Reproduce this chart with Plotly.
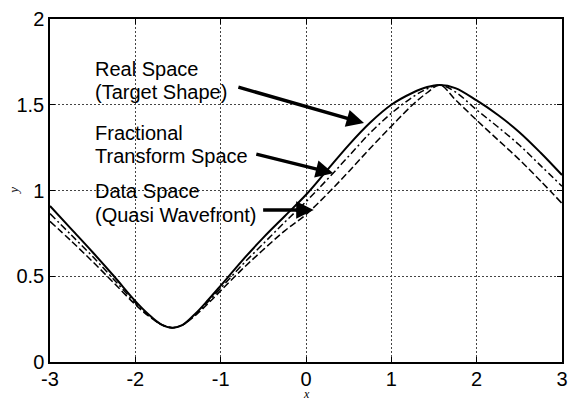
import plotly.graph_objects as go

# Sample positions along x shared by the three profiles
x_vals = [-3.0, -2.75, -2.5, -2.25, -2.0, -1.85, -1.7, -1.57, -1.45, -1.3, -1.15,
          -1.0, -0.75, -0.5, -0.25, 0.0, 0.25, 0.5, 0.75, 1.0, 1.25, 1.42, 1.57,
          1.75, 2.0, 2.25, 2.5, 2.75, 3.0]

# Real space (target shape)
real_space = [0.91, 0.775, 0.64, 0.5, 0.355, 0.28, 0.22, 0.2, 0.215, 0.28, 0.36,
              0.445, 0.59, 0.725, 0.85, 0.975, 1.12, 1.265, 1.395, 1.5, 1.57, 1.603, 1.615,
              1.597, 1.525, 1.44, 1.34, 1.22, 1.09]

# Fractional transform space
fractional = [0.865, 0.74, 0.615, 0.48, 0.345, 0.275, 0.22, 0.2, 0.215, 0.275, 0.35,
              0.43, 0.565, 0.69, 0.815, 0.935, 1.065, 1.2, 1.335, 1.45, 1.545, 1.593, 1.615,
              1.575, 1.47, 1.37, 1.265, 1.145, 1.025]

# Data space (quasi wavefront)
data_space = [0.82, 0.705, 0.585, 0.46, 0.335, 0.27, 0.22, 0.2, 0.215, 0.27, 0.34,
              0.415, 0.54, 0.655, 0.765, 0.86, 0.98, 1.11, 1.245, 1.375, 1.5, 1.57, 1.615,
              1.53, 1.41, 1.295, 1.18, 1.055, 0.925]

x_ticks = [-3, -2, -1, 0, 1, 2, 3]
y_ticks = [0, 0.5, 1, 1.5, 2]
y_tick_text = ["0", "0.5", "1", "1.5", "2"]

fig = go.Figure()
fig.add_trace(go.Scatter(x=x_vals, y=real_space, mode="lines",
                         line=dict(color="black", width=2, shape="spline", smoothing=1.0)))
fig.add_trace(go.Scatter(x=x_vals, y=fractional, mode="lines",
                         line=dict(color="black", width=1.5, dash="7px,3px,2px,3px",
                                   shape="spline", smoothing=1.0)))
fig.add_trace(go.Scatter(x=x_vals, y=data_space, mode="lines",
                         line=dict(color="black", width=1.5, dash="7px,3px",
                                   shape="spline", smoothing=1.0)))

label_font = dict(family="Liberation Sans, Arial, sans-serif", size=20, color="black")

# Curve labels (one annotation per text line)
labels = [
    ("Real Space", 1.709),
    ("(Target Shape)", 1.575),
    ("Fractional", 1.338),
    ("Transform Space", 1.204),
    ("Data Space", 1.0),
    ("(Quasi Wavefront)", 0.860),
]
for txt, yy in labels:
    fig.add_annotation(x=-2.5, y=yy, text=txt, showarrow=False, xanchor="left",
                       yanchor="middle", font=label_font)

# Arrows from the labels to their curves: (tail x, tail y, head x, head y)
arrows = [
    (-0.81, 1.605, 0.68, 1.393),
    (-0.60, 1.214, 0.32, 1.101),
    (-0.52, 0.887, 0.09, 0.887),
]
for ax0, ay0, hx, hy in arrows:
    fig.add_annotation(x=hx, y=hy, ax=ax0, ay=ay0, xref="x", yref="y",
                       axref="x", ayref="y", text="", showarrow=True,
                       arrowhead=2, arrowsize=1.0, arrowwidth=3.5, arrowcolor="black")

# Axis names, small italic serif
title_font = dict(family="Liberation Serif, Times New Roman, serif", size=12, color="black")
fig.add_annotation(xref="paper", yref="paper", x=0.5, y=-0.092, text="<i>x</i>",
                   showarrow=False, xanchor="center", yanchor="middle", borderpad=0,
                   font=title_font)
fig.add_annotation(xref="paper", yref="paper", x=-0.072, y=0.5, text="<i>y</i>",
                   showarrow=False, xanchor="center", yanchor="middle", textangle=-90,
                   borderpad=0, font=dict(family="Liberation Serif, Times New Roman, serif",
                                          size=13, color="black"))

axis_common = dict(
    showline=True, linecolor="black", linewidth=1.5, mirror="allticks",
    ticks="inside", ticklen=5, tickcolor="black", tickwidth=1,
    showgrid=True, gridcolor="#444444", gridwidth=1, griddash="2px,2px",
    zeroline=False, automargin=False,
    tickfont=dict(family="Liberation Sans, Arial, sans-serif", size=20, color="black"),
)

fig.update_xaxes(range=[-3, 3], tickvals=x_ticks, ticktext=[str(v) for v in x_ticks],
                 ticklabelstandoff=-2, **axis_common)
fig.update_yaxes(range=[0, 2], tickvals=y_ticks, ticktext=y_tick_text, **axis_common)

fig.update_layout(
    width=568, height=401,
    margin=dict(l=50, r=6, t=19, b=39),
    plot_bgcolor="white", paper_bgcolor="white",
    showlegend=False,
)

fig.write_html("out.html")
